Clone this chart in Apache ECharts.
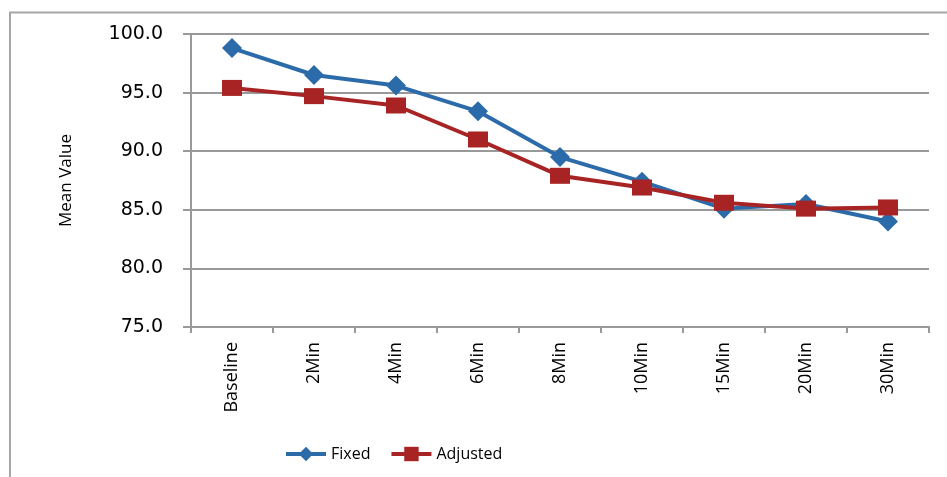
<!DOCTYPE html>
<html>
<head>
<meta charset="utf-8">
<script src="https://cdn.jsdelivr.net/npm/echarts@6/dist/echarts.min.js"></script>
<style>
html,body{margin:0;padding:0;background:#fff;}
#chart{width:947px;height:477px;}
</style>
</head>
<body>
<div id="chart"></div>
<script>
const categories = ['Baseline','2Min','4Min','6Min','8Min','10Min','15Min','20Min','30Min'];
const fixedValues = [98.8, 96.5, 95.6, 93.4, 89.5, 87.4, 85.1, 85.5, 84.0];
const adjustedValues = [95.4, 94.7, 93.9, 91.0, 87.9, 86.9, 85.6, 85.1, 85.2];
const yTicks = [75, 80, 85, 90, 95, 100];

const chart = echarts.init(document.getElementById('chart'));
chart.setOption({
  backgroundColor: '#fff',
  animation: false,
  graphic: [{
    type: 'rect',
    shape: { x: 10, y: 12.5, width: 1000, height: 600 },
    style: { fill: 'none', stroke: '#a6a6a6', lineWidth: 2 },
    silent: true, z: 0
  }],
  grid: { left: 191, right: 18, top: 34, bottom: 150 },
  legend: {
    top: 441,
    left: 279,
    padding: 5,
    itemWidth: 40,
    itemHeight: 18,
    itemGap: 19,
    lineStyle: { width: 4 },
    textStyle: { fontFamily: 'Open Sans', fontSize: 16, color: '#000' },
    data: ['Fixed', 'Adjusted']
  },
  xAxis: {
    type: 'category',
    data: categories,
    boundaryGap: true,
    axisLine: { lineStyle: { color: '#999', width: 2 } },
    axisTick: { show: true, length: 6, lineStyle: { color: '#999', width: 2 } },
    axisLabel: {
      rotate: 90, margin: 15, color: '#000',
      fontFamily: 'Open Sans', fontSize: 18
    }
  },
  yAxis: {
    type: 'value',
    min: yTicks[0], max: yTicks[yTicks.length - 1], interval: 5,
    name: 'Mean Value',
    nameLocation: 'middle',
    nameGap: 116,
    nameTextStyle: { fontFamily: 'Open Sans', fontSize: 17, color: '#000' },
    axisLine: { show: true, lineStyle: { color: '#999', width: 2 } },
    axisTick: { show: true, length: 8, lineStyle: { color: '#999', width: 2 } },
    splitLine: { lineStyle: { color: '#999', width: 2 } },
    axisLabel: {
      margin: 28, color: '#000',
      fontFamily: 'DejaVu Sans', fontSize: 19,
      formatter: v => v.toFixed(1)
    }
  },
  series: [
    {
      name: 'Fixed', type: 'line', data: fixedValues,
      symbol: 'diamond', symbolSize: 20,
      lineStyle: { color: '#2C6BA9', width: 4 },
      itemStyle: { color: '#2C6BA9' },
      z: 2
    },
    {
      name: 'Adjusted', type: 'line', data: adjustedValues,
      symbol: 'rect', symbolSize: [20, 16],
      lineStyle: { color: '#A82424', width: 4 },
      itemStyle: { color: '#A82424' },
      z: 3
    }
  ]
});
</script>
</body>
</html>
